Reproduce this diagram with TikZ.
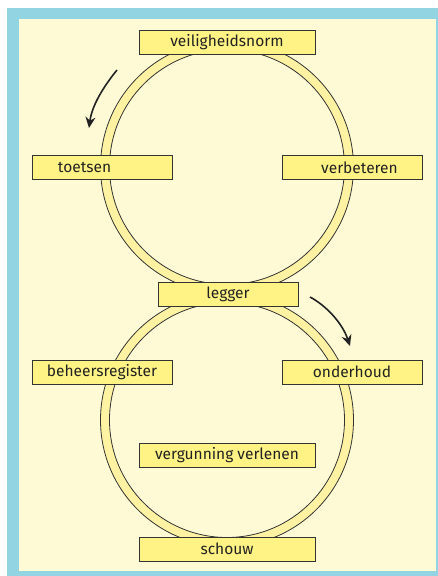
\documentclass[tikz,border=0pt]{standalone}
\usepackage{fontspec}
\setmainfont{Fira Sans}
\usetikzlibrary{arrows.meta}
\definecolor{frameblue}{HTML}{92D4E2}
\definecolor{cream}{HTML}{FFFAD6}
\definecolor{boxyellow}{HTML}{FFF385}
\definecolor{ringyellow}{HTML}{FFF3A3}
\definecolor{edge}{HTML}{333333}
\definecolor{ink}{HTML}{222222}
\begin{document}
\begin{tikzpicture}[x=1pt,y=-1pt,
  stepbox/.style={draw=edge,line width=0.9pt,fill=boxyellow,minimum width=140pt,minimum height=24pt,inner sep=0pt,text=ink,font=\fontsize{15.5}{17}\selectfont},
  widebox/.style={stepbox,minimum width=176pt},
  ring/.style={draw=edge,line width=0.8pt,fill=ringyellow,even odd rule},
  flow/.style={ink,line width=1.6pt,-{Stealth[length=11pt,width=10pt]}}]
\useasboundingbox (0,0) rectangle (438,576);
\fill[white] (0,0) rectangle (438,576);
\fill[frameblue] (7,8) rectangle (438,576);
\fill[cream] (19,19) rectangle (436,571);
% rings
\path[ring] (227,167) circle[radius=126.5] (227,167) circle[radius=117.5];
\path[ring] (227,420) circle[radius=126.5] (227,420) circle[radius=117.5];
% boxes
\node[widebox] (norm) at (227,42.5) {veiligheidsnorm};
\node[stepbox] (toetsen) at (102,167.5) {\hspace{-35pt}toetsen};
\node[stepbox] (verbeteren) at (352,167.5) {\hspace{15pt}verbeteren};
\node[stepbox] (legger) at (228,294) {legger};
\node[stepbox] (beheer) at (102,372) {beheersregister};
\node[stepbox] (onderhoud) at (352,372) {onderhoud};
\node[widebox] (vergunning) at (227,455.5) {vergunning verlenen};
\node[widebox] (schouw) at (227,549) {schouw};
% arrows
\coordinate (a1) at (117,70);
\coordinate (a2) at (89,128);
\coordinate (b1) at (310,297);
\coordinate (b2) at (350,346);
\draw[flow] (a1) .. controls (104,86) and (92,105) .. (a2);
\draw[flow] (b1) .. controls (325,305) and (342,322) .. (b2);
\end{tikzpicture}
\end{document}
